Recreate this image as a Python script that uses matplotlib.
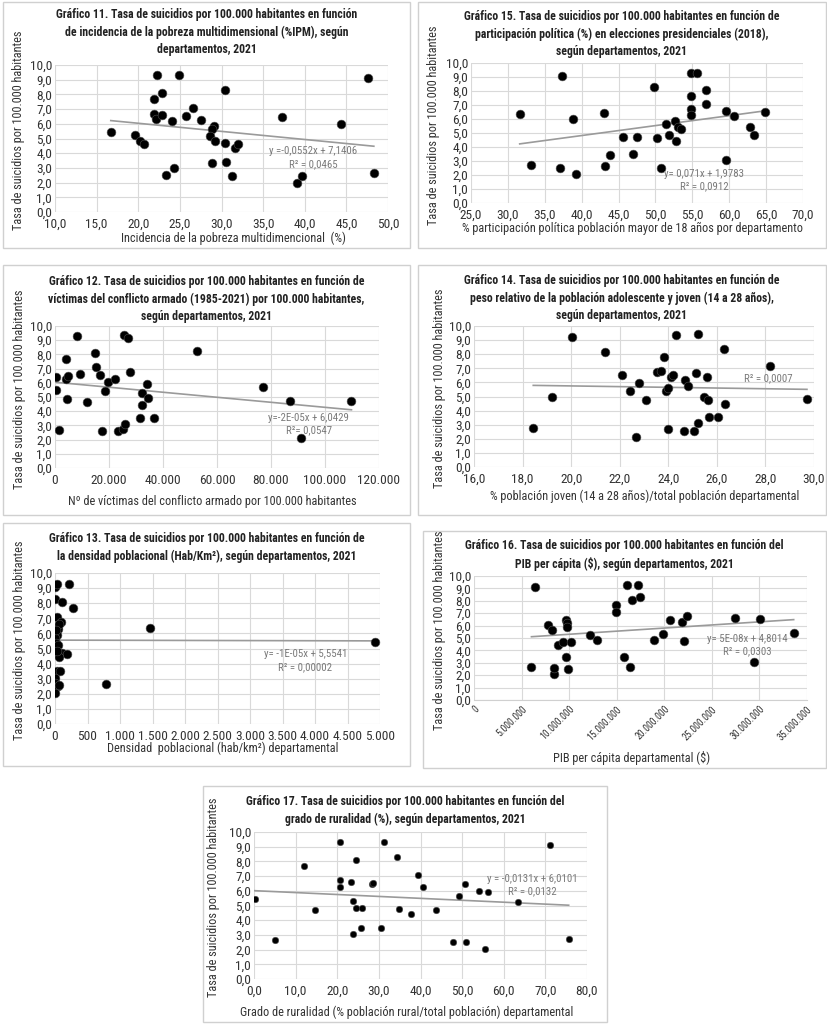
import matplotlib
matplotlib.use("Agg")
import matplotlib.pyplot as plt
from matplotlib import font_manager as fm
from matplotlib.patches import Rectangle
import numpy as np

# look for a condensed sans; otherwise fall back to Roboto and smaller sizes
FONT, STRETCH, K = "Roboto", "normal", 0.84
_narrow = ["Liberation Sans Narrow", "Roboto Condensed", "Noto Sans Condensed",
           "Open Sans Condensed", "DejaVu Sans Condensed"]
_names = {f.name for f in fm.fontManager.ttflist}
for nm in _narrow:
    if nm in _names:
        FONT, STRETCH, K = nm, "normal", 1.0
        break
else:
    for f in fm.fontManager.ttflist:
        if f.name in ("Noto Sans", "DejaVu Sans", "Open Sans", "Roboto") and f.stretch == "condensed":
            FONT, STRETCH, K = f.name, "condensed", 1.0
            break
plt.rcParams["font.family"] = [FONT, "DejaVu Sans"]
plt.rcParams["font.stretch"] = STRETCH

# Gráfico 11 - pobreza multidimensional (%)
ipm_x = [16.7, 19.6, 20.2, 20.7, 22.2, 21.9, 22.8, 21.9, 22.1, 22.9, 23.3, 24.1, 24.3, 24.9,
         25.7, 26.6, 27.5, 29.1, 28.9, 28.6, 29.2, 28.9, 30.4, 30.4, 30.6, 31.3, 31.6, 32.0,
         37.3, 44.4, 47.6, 39.1, 39.7, 48.3]
ipm_y = [5.41, 5.27, 4.82, 4.61, 9.32, 7.68, 8.09, 6.70, 6.36, 6.59, 2.55, 6.18, 3.00, 9.34,
         6.50, 7.05, 6.23, 5.84, 5.64, 5.20, 4.84, 3.36, 8.27, 4.68, 3.41, 2.45, 4.34, 4.64,
         6.43, 5.98, 9.09, 1.98, 2.48, 2.66]

# Gráfico 15 - participación política (%)
part_x = [31.6, 33.2, 37.4, 37.1, 38.8, 39.2, 43.0, 43.2, 43.9, 45.6, 46.9, 47.5, 49.8, 50.2,
          50.7, 51.4, 51.9, 52.6, 52.8, 53.1, 53.4, 54.8, 54.8, 54.8, 54.8, 55.6, 56.9, 56.8,
          59.6, 59.6, 60.7, 62.8, 63.3, 64.8]
part_y = [6.36, 2.74, 9.05, 2.52, 6.02, 2.07, 6.43, 2.64, 3.45, 4.71, 3.48, 4.71, 8.29, 4.64,
          2.52, 5.64, 4.86, 5.88, 4.40, 5.40, 5.29, 7.67, 6.71, 6.29, 9.29, 9.29, 8.05, 7.07,
          6.60, 3.10, 6.21, 5.45, 4.83, 6.52]

# Gráfico 12 - víctimas del conflicto armado por 100.000 hab.
vict_x = [400, 400, 1350, 3900, 3900, 4700, 4300, 8000, 9300, 12000, 14900, 15200, 16800, 17300,
          18600, 19500, 22200, 23300, 25100, 25600, 27000, 25800, 27600, 31600, 32200, 32400,
          33900, 34600, 36700, 52500, 77100, 87100, 91100, 109800]
vict_y = [6.41, 5.48, 2.67, 7.71, 6.24, 6.48, 4.87, 9.31, 6.62, 4.68, 8.09, 7.09, 6.57, 2.58,
          5.39, 6.05, 6.29, 2.58, 2.74, 9.34, 9.13, 3.12, 6.76, 3.50, 5.27, 4.44, 5.91, 4.92,
          3.52, 8.27, 5.70, 4.75, 2.10, 4.73]

# Gráfico 14 - población joven (%)
joven_x = [18.44, 19.20, 20.04, 21.38, 22.11, 22.44, 22.66, 22.79, 23.10, 23.55, 23.69, 23.81,
           23.91, 24.00, 23.97, 24.11, 24.21, 24.30, 24.69, 24.82, 25.14, 25.24, 24.65, 25.05,
           25.24, 25.48, 25.63, 25.61, 25.68, 26.05, 26.29, 26.35, 28.20, 29.71]
joven_y = [2.80, 4.93, 9.19, 8.18, 6.49, 5.36, 2.13, 5.95, 4.72, 6.71, 6.80, 7.82, 5.40, 5.57,
           2.68, 6.35, 6.56, 9.38, 6.14, 5.73, 6.64, 9.41, 2.58, 2.58, 3.15, 4.95, 4.76, 6.35,
           3.55, 3.55, 8.36, 4.50, 7.16, 4.79]

# Gráfico 13 - densidad poblacional (hab/km2)
dens_x = [5, 30, 215, 5, 100, 277, 30, 5, 90, 50, 50, 5, 30, 5, 20, 5, 40, 110, 180, 60, 30,
          70, 5, 0, 50, 5, 790, 1460, 4930, 60, 20, 40, 30, 60]
dens_y = [9.09, 9.30, 9.30, 8.30, 8.09, 7.68, 7.07, 6.43, 6.75, 6.52, 6.27, 6.02, 5.89, 5.68,
          5.34, 4.66, 4.73, 4.70, 4.62, 4.41, 3.48, 3.50, 3.07, 2.70, 2.52, 2.07, 2.64, 6.33,
          5.43, 6.59, 6.23, 5.25, 4.86, 2.55]

# Gráfico 16 - PIB per cápita ($)
pib_x = [6.04e6, 6.46e6, 7.76e6, 8.25e6, 8.85e6, 8.39e6, 8.43e6, 9.38e6, 9.62e6, 9.73e6, 9.76e6,
         9.62e6, 9.90e6, 10.18e6, 12.2e6, 12.9e6, 14.96e6, 14.96e6, 15.77e6, 16.09e6, 16.61e6,
         16.44e6, 17.28e6, 17.45e6, 18.96e6, 19.87e6, 20.58e6, 21.84e6, 22.09e6, 22.37e6,
         27.39e6, 30.09e6, 29.46e6, 33.6e6]
pib_y = [2.70, 9.09, 6.02, 5.68, 4.41, 2.07, 2.55, 4.70, 6.43, 6.23, 5.89, 3.50, 2.52, 4.66,
         5.25, 4.86, 7.68, 7.07, 3.48, 9.30, 8.09, 2.64, 9.30, 8.30, 4.84, 5.34, 6.45, 6.27,
         4.73, 6.75, 6.59, 6.52, 3.07, 5.43]

# Gráfico 17 - ruralidad (%)
rural_x = [0.2, 5.0, 12.0, 14.6, 20.6, 20.7, 20.7, 23.4, 23.9, 24.4, 24.6, 25.9, 23.7, 25.7,
           28.4, 28.7, 30.6, 31.3, 34.4, 34.9, 37.6, 39.4, 40.7, 43.8, 47.9, 49.3, 50.7, 51.0,
           54.1, 55.4, 56.2, 63.4, 71.1, 75.6]
rural_y = [5.43, 2.64, 7.68, 4.66, 9.30, 6.75, 6.27, 6.59, 5.34, 8.09, 4.86, 4.84, 3.07, 3.48,
           6.43, 6.52, 3.50, 9.30, 8.30, 4.73, 4.41, 7.07, 6.23, 4.70, 2.52, 5.68, 6.45, 2.55,
           6.02, 2.07, 5.89, 5.25, 9.09, 2.70]

# trend lines (slope, intercept) and their labels
trend_coef = {
    11: (-0.0552, 7.1406), 15: (0.071, 1.9783), 12: (-1.77e-5, 6.0429),
    14: (-0.025, 6.25), 13: (-1e-5, 5.5541), 16: (5e-8, 4.8014), 17: (-0.0131, 6.0101),
}
trend_text = {
    11: "y =-0,0552x + 7,1406\nR² = 0,0465",
    15: "y= 0,071x + 1,9783\nR² = 0,0912",
    12: "y=-2E-05x + 6,0429\nR²= 0,0547",
    14: "R² = 0,0007",
    13: "y= -1E-05x + 5,5541\nR² = 0,00002",
    16: "y= 5E-08x + 4,8014\nR² = 0,0303",
    17: "y = -0,0131x + 6,0101\nR² = 0,0132",
}

titles = {
    11: "Gráfico 11. Tasa de suicidios por 100.000 habitantes en función\nde incidencia de la pobreza multidimensional (%IPM), según\ndepartamentos, 2021",
    15: "Gráfico 15. Tasa de suicidios por 100.000 habitantes en función de\nparticipación política (%) en elecciones presidenciales (2018),\nsegún departamentos, 2021",
    12: "Gráfico 12. Tasa de suicidios por 100.000 habitantes en función de\nvíctimas del conflicto armado (1985-2021) por 100.000 habitantes,\nsegún departamentos, 2021",
    14: "Gráfico 14. Tasa de suicidios por 100.000 habitantes en función de\npeso relativo de la población adolescente y joven (14 a 28 años),\nsegún departamentos, 2021",
    13: "Gráfico 13. Tasa de suicidios por 100.000 habitantes en función de\nla densidad poblacional (Hab/Km²), según departamentos, 2021",
    16: "Gráfico 16. Tasa de suicidios por 100.000 habitantes en función del\nPIB per cápita ($), según departamentos, 2021",
    17: "Gráfico 17. Tasa de suicidios por 100.000 habitantes en función del\ngrado de ruralidad (%), según departamentos, 2021",
}
xlabels = {
    11: "Incidencia de la pobreza multidimencional  (%)",
    15: "% participación política población mayor de 18 años por departamento",
    12: "Nº de víctimas del conflicto armado por 100.000 habitantes",
    14: "% población joven (14 a 28 años)/total población departamental",
    13: "Densidad  poblacional (hab/km²) departamental",
    16: "PIB per cápita departamental ($)",
    17: "Grado de ruralidad (% población rural/total población) departamental",
}
ylabel = "Tasa de suicidios por 100.000 habitantes"

W, H = 827, 1024
fig = plt.figure(figsize=(W / 100, H / 100), dpi=100)


def fx(px):
    return px / W


def fy(py):
    return 1 - py / H


def comma1(v, pos=None):
    return f"{v:.1f}".replace(".", ",")


def thousands(v, pos=None):
    return f"{int(round(v)):,}".replace(",", ".")


# panel layout in pixels: box, plot area, title, labels
panels = [
    dict(n=11, x=ipm_x, y=ipm_y, box=(3, 2, 410, 248), plot=(55, 65, 388, 212),
         xlim=(10, 50), step=5, fmt=comma1, title_y=8, ylab_x=19, xlab=(233, 238),
         txt=(41.0, 3.7)),
    dict(n=15, x=part_x, y=part_y, box=(418, 2, 826, 248), plot=(471, 63, 803, 203),
         xlim=(25, 70), step=5, fmt=comma1, title_y=10, ylab_x=434, xlab=(632, 228),
         txt=(56.6, 1.65)),
    dict(n=12, x=vict_x, y=vict_y, box=(3, 265, 410, 515), plot=(55, 326, 379, 468),
         xlim=(0, 120000), step=20000, fmt=thousands, title_y=275, ylab_x=20, xlab=(212, 501),
         txt=(94000, 3.1)),
    dict(n=14, x=joven_x, y=joven_y, box=(418, 265, 826, 515), plot=(474, 326, 814, 467),
         xlim=(16, 30), step=2, fmt=comma1, title_y=274, ylab_x=439, xlab=(645, 496),
         txt=(28.1, 6.28)),
    dict(n=13, x=dens_x, y=dens_y, box=(3, 523, 410, 766), plot=(55, 573, 380, 724),
         xlim=(0, 5000), step=500, fmt=thousands, title_y=532, ylab_x=20, xlab=(223, 748),
         txt=(3850, 4.2)),
    dict(n=16, x=pib_x, y=pib_y, box=(423, 531, 826, 768), plot=(474, 576, 807, 700),
         xlim=(0, 35e6), step=5e6, fmt=thousands, title_y=539, ylab_x=439, xlab=(632, 758),
         txt=(28.7e6, 4.4)),
    dict(n=17, x=rural_x, y=rural_y, box=(203, 786, 607, 1022), plot=(254, 832, 587, 979),
         xlim=(0, 80), step=10, fmt=comma1, title_y=795, ylab_x=213, xlab=(407, 1012),
         txt=(66.8, 6.4)),
]

for p in panels:
    n = p["n"]
    bx0, by0, bx1, by1 = p["box"]
    fig.patches.append(Rectangle((fx(bx0), fy(by1)), fx(bx1 - bx0), (by1 - by0) / H,
                                 transform=fig.transFigure, fill=False,
                                 edgecolor="#d0d0d0", linewidth=1.0))
    px0, py0, px1, py1 = p["plot"]
    ax = fig.add_axes([fx(px0), fy(py1), fx(px1 - px0), (py1 - py0) / H])

    x = np.array(p["x"])
    y = np.array(p["y"])
    size = 22 if n == 17 else 40
    ax.scatter(x, y, s=size, color="black", edgecolors="#505050", linewidths=0.4, zorder=3)

    m, b = trend_coef[n]
    tx = np.array([x.min(), x.max()])
    ax.plot(tx, m * tx + b, color="#9a9a9a", linewidth=1.2, zorder=2)
    ax.text(p["txt"][0], p["txt"][1], trend_text[n], ha="center", va="center",
            fontsize=7.8 * K, color="#7a7a7a", linespacing=1.3, zorder=4)

    lo, hi = p["xlim"]
    ax.set_xlim(lo, hi)
    ax.set_ylim(0, 10)
    ax.set_xticks(np.arange(lo, hi + p["step"] / 2, p["step"]))
    ax.set_yticks(np.arange(0, 10.5, 1))
    ax.xaxis.set_major_formatter(p["fmt"])
    ax.yaxis.set_major_formatter(comma1)
    ax.grid(True, color="#d9d9d9", linewidth=0.8)
    ax.set_axisbelow(True)
    for s in ax.spines.values():
        s.set_visible(False)
    if n == 16:
        ax.spines["bottom"].set_visible(True)
        ax.spines["bottom"].set_color("#d0d0d0")
    ax.tick_params(length=0, labelsize=9.6 * K, colors="#333333", pad=2)
    ax.tick_params(axis="x", pad=4)
    if n == 16:
        ax.tick_params(axis="x", labelsize=7 * K, pad=3)
        for lab in ax.get_xticklabels():
            lab.set_rotation(45)
            lab.set_ha("right")
            lab.set_rotation_mode("anchor")

    fig.text(fx((bx0 + bx1) / 2), fy(p["title_y"]), titles[n], ha="center", va="top",
             fontsize=8.5 * K, fontweight="bold", color="#222222", linespacing=1.45)
    fig.text(fx(p["ylab_x"]), fy((py0 + py1) / 2 - 8), ylabel, rotation=90,
             ha="center", va="center", fontsize=8.8 * K, color="#333333")
    fig.text(fx(p["xlab"][0]), fy(p["xlab"][1]), xlabels[n], ha="center", va="center",
             fontsize=8.8 * K, color="#333333")

fig.savefig("out.png", dpi=100, facecolor="white")
